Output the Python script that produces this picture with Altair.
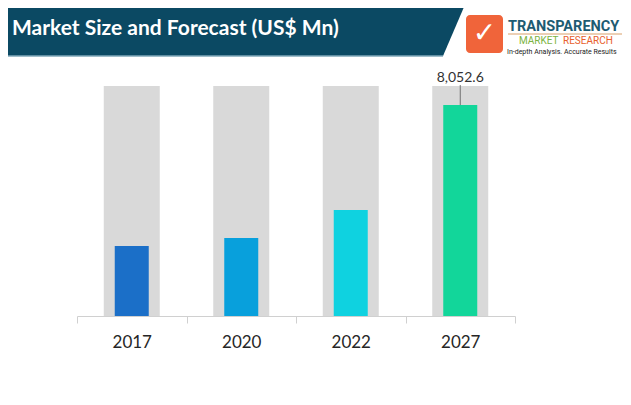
import altair as alt
import pandas as pd

years = ["2017", "2020", "2022", "2027"]
values = [2670, 2980, 4050, 8052.6]
background = [8780, 8780, 8780, 8780]
labels = ["", "", "", "8,052.6"]
colors = ["#1b6fc8", "#08a0dc", "#0fd2e0", "#12d69a"]

title = "Market Size and Forecast (US$ Mn)"
logo_main = "TRANSPARENCY"
logo_a = "MARKET"
logo_b = "RESEARCH"
logo_tag = "In-depth Analysis. Accurate Results"

df = pd.DataFrame({"year": years, "value": values, "bg": background, "label": labels})

FONT = "Lato"
NARROW = "Roboto"

x = alt.X("year:N", sort=years,
          axis=alt.Axis(title=None, labelAngle=0, labelFontSize=17, labelFont=FONT,
                        labelColor="#262626", domainColor="#d0d0d0", tickColor="#d0d0d0",
                        tickSize=7, tickBand="extent", labelPadding=11))
yscale = alt.Scale(domain=[0, 8780])

base = alt.Chart(df)

bg = base.mark_bar(size=56, color="#d9d9d9").encode(
    x=x, y=alt.Y("bg:Q", scale=yscale, axis=None))
bars = base.mark_bar(size=34).encode(
    x=x, y=alt.Y("value:Q", scale=yscale, axis=None),
    color=alt.Color("year:N", scale=alt.Scale(domain=years, range=colors), legend=None))
lab = base.transform_filter("datum.label != ''")
leader = lab.mark_rule(color="#555555", strokeWidth=0.8).encode(
    x=x, y=alt.Y("value:Q", scale=yscale), y2=alt.value(-1))
vtext = lab.mark_text(fontSize=14, font=FONT, color="#333333", baseline="middle").encode(
    x=x, text="label:N", y=alt.value(-8))

one = alt.Chart(pd.DataFrame({"t": [title]}))
header = one.mark_rect(color="#0b4963").encode(
    x=alt.value(-69), x2=alt.value(366), y=alt.value(-90), y2=alt.value(-30))
slant = one.mark_point(shape="M-0.5,1 L-0.5,-1 L0.4286,-1 L-0.4286,1 Z", size=3136,
                       filled=True, opacity=1, color="#0b4963", strokeWidth=0).encode(
    x=alt.value(378), y=alt.value(-58))
hline = one.mark_rule(color="#7fa7b8", strokeWidth=1.5).encode(
    x=alt.value(-69), x2=alt.value(366), y=alt.value(-30))
htitle = one.mark_text(align="left", baseline="middle", fontSize=21, fontWeight="bold",
                       font=FONT, color="white").encode(
    x=alt.value(-65), y=alt.value(-57), text="t:N")

logo_box = one.mark_rect(color="#f0643a", cornerRadius=4).encode(
    x=alt.value(389), x2=alt.value(426), y=alt.value(-71), y2=alt.value(-33))
check = one.mark_text(text="✓", font="DejaVu Sans", fontSize=28, fontWeight="bold",
                      color="white", baseline="middle").encode(
    x=alt.value(407.5), y=alt.value(-52))
t_main = alt.Chart(pd.DataFrame({"t": [logo_main]})).mark_text(
    align="left", baseline="alphabetic", fontSize=14.5, fontWeight="bold", font=NARROW,
    color="#1d5b72").encode(x=alt.value(431), y=alt.value(-55), text="t:N")
uline = one.mark_rule(color="#d9a06b", strokeWidth=1).encode(
    x=alt.value(431), x2=alt.value(545), y=alt.value(-52))
t_a = alt.Chart(pd.DataFrame({"t": [logo_a]})).mark_text(
    align="left", baseline="middle", fontSize=10, font=NARROW, color="#7cb342").encode(
    x=alt.value(442), y=alt.value(-45), text="t:N")
t_b = alt.Chart(pd.DataFrame({"t": [logo_b]})).mark_text(
    align="left", baseline="middle", fontSize=10, font=NARROW, color="#e8602c").encode(
    x=alt.value(486), y=alt.value(-45), text="t:N")
t_tag = alt.Chart(pd.DataFrame({"t": [logo_tag]})).mark_text(
    align="left", baseline="middle", fontSize=7, font=NARROW, color="#222222").encode(
    x=alt.value(430), y=alt.value(-34), text="t:N")

chart = alt.layer(bg, bars, leader, vtext, header, slant, hline, htitle,
                  logo_box, check, t_main, uline, t_a, t_b, t_tag).properties(
    width=438, height=230,
    autosize=alt.AutoSizeParams(type="none"),
    padding={"left": 69, "top": 78, "right": 108, "bottom": 77},
).configure_view(stroke=None).configure_scale(bandPaddingInner=0, bandPaddingOuter=0)

chart.save("out.html", embed_options={"renderer": "svg", "actions": False})
